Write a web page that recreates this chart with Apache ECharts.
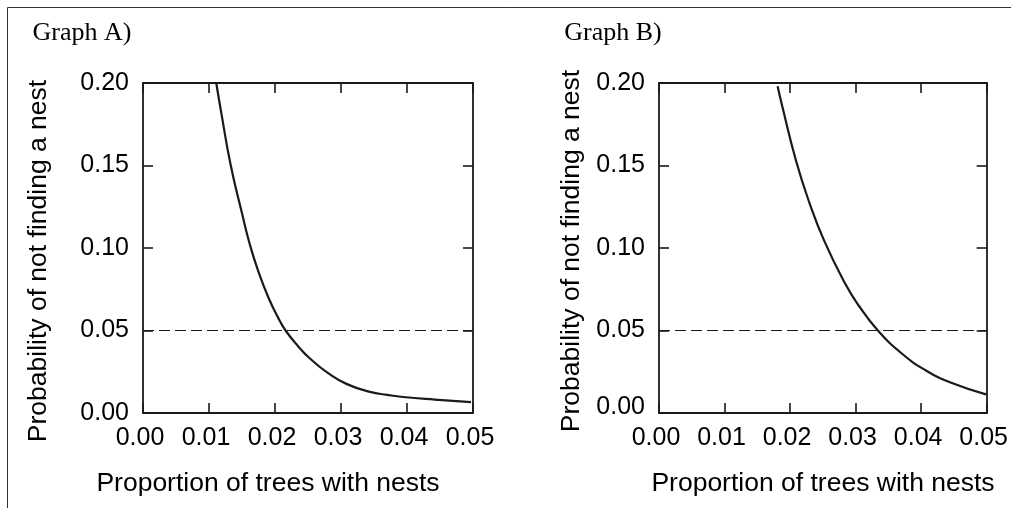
<!DOCTYPE html>
<html lang="en">
<head>
  <meta charset="UTF-8">
  <title>Probability of not finding a nest</title>
  <style type="text/css">
    * {
      margin: 0;
      padding: 0;
    }
    html, body {
      width: 100%;
      height: 100%;
      overflow: hidden;
      background: #fff;
    }
    #main {
      width: 1011px;
      height: 508px;
    }
  </style>
  <script type="text/javascript" src="https://cdn.jsdelivr.net/npm/echarts@6/dist/echarts.min.js"></script>
</head>
<body>
<div id="main"></div>
<script type="text/javascript">
  // values
  var xTickLabels = ['0.00', '0.01', '0.02', '0.03', '0.04', '0.05'];
  var yTickLabels = ['0.00', '0.05', '0.10', '0.15', '0.20'];
  var thresholdLine = [0.05];

  var curveAx = [0.0111, 0.0119, 0.0133, 0.0150, 0.0162, 0.0175, 0.0190, 0.0205, 0.0216, 0.0235, 0.0253, 0.0281, 0.0309, 0.0344, 0.0370, 0.0394, 0.0442, 0.0497];
  var curveAy = [0.200, 0.181, 0.150, 0.121, 0.102, 0.0855, 0.0700, 0.0575, 0.0500, 0.0405, 0.0330, 0.0240, 0.0175, 0.0128, 0.0110, 0.0097, 0.0081, 0.0066];

  var curveBx = [0.0181, 0.0188, 0.0209, 0.0229, 0.0252, 0.0284, 0.0305, 0.0334, 0.0370, 0.0406, 0.0446, 0.0499];
  var curveBy = [0.198, 0.186, 0.153, 0.128, 0.1045, 0.0785, 0.0650, 0.0500, 0.0362, 0.0261, 0.0183, 0.0113];

  var sans = 'Liberation Sans';
  var ink = '#1a1a1a';

  function zip(xs, ys) {
    var out = [];
    for (var i = 0; i < xs.length; i++) {
      out.push([xs[i], ys[i]]);
    }
    return out;
  }

  function xAxis(grid, pos, showLabel) {
    return {
      type: 'value', gridIndex: grid, position: pos,
      min: 0, max: 0.05, interval: 0.01,
      axisLine: { show: true, onZero: false, lineStyle: { color: ink, width: 1.8 } },
      axisTick: { show: true, inside: true, length: 10, lineStyle: { color: ink, width: 1.6 } },
      splitLine: { show: false },
      axisLabel: {
        show: showLabel, margin: 13, fontFamily: sans, fontSize: 25, color: '#000',
        padding: [0, 6, 0, 0],
        formatter: function (v, i) { return xTickLabels[i]; }
      }
    };
  }

  function yAxis(grid, pos, showLabel, liftZero) {
    return {
      type: 'value', gridIndex: grid, position: pos,
      min: 0, max: 0.2, interval: 0.05,
      axisLine: { show: true, onZero: false, lineStyle: { color: ink, width: 1.8 } },
      axisTick: { show: true, inside: true, length: 10, lineStyle: { color: ink, width: 1.6 } },
      splitLine: { show: false },
      axisLabel: {
        show: showLabel, margin: 14, fontFamily: sans, fontSize: 25, color: '#000',
        formatter: function (v, i) {
          if (liftZero && i === 0) return '{z|' + yTickLabels[i] + '}';
          return yTickLabels[i];
        },
        rich: { z: { fontFamily: sans, fontSize: 25, color: '#000', padding: [0, 0, 12, 0] } }
      }
    };
  }

  function curve(grid, xs, ys) {
    return {
      type: 'line', xAxisIndex: grid * 2, yAxisIndex: grid * 2,
      data: zip(xs, ys), showSymbol: false, smooth: 0.5,
      lineStyle: { color: ink, width: 2.2 },
      markLine: {
        silent: true, symbol: 'none', label: { show: false },
        lineStyle: { color: ink, width: 1.2, type: [11, 5] },
        data: [{ yAxis: thresholdLine[0] }]
      },
      z: 3
    };
  }

  function label(text, x, y, font, rot) {
    return {
      type: 'text', x: x, y: y, rotation: rot || 0,
      style: {
        text: text, font: font, fill: '#000',
        align: 'center', verticalAlign: 'middle',
        textAlign: 'center', textVerticalAlign: 'middle'
      }
    };
  }

  var chart = echarts.init(document.getElementById('main'));
  var option = {
    animation: false,
    backgroundColor: '#fff',
    grid: [
      { left: 143, top: 83, width: 330, height: 330 },
      { left: 659, top: 83, width: 330, height: 330 }
    ],
    xAxis: [
      xAxis(0, 'bottom', true), xAxis(0, 'top', false),
      xAxis(1, 'bottom', true), xAxis(1, 'top', false)
    ],
    yAxis: [
      yAxis(0, 'left', true, false), yAxis(0, 'right', false, false),
      yAxis(1, 'left', true, true), yAxis(1, 'right', false, false)
    ],
    series: [
      curve(0, curveAx, curveAy),
      curve(1, curveBx, curveBy)
    ],
    graphic: [
      // outer frame (top and left only)
      { type: 'line', shape: { x1: 7.5, y1: 7.5, x2: 1011, y2: 7.5 }, style: { stroke: '#333', lineWidth: 1 } },
      { type: 'line', shape: { x1: 7.5, y1: 7.5, x2: 7.5, y2: 508 }, style: { stroke: '#333', lineWidth: 1 } },
      label('Graph A)', 82, 33, '26px "Liberation Serif"'),
      label('Graph B)', 613, 33, '26px "Liberation Serif"'),
      label('Proportion of trees with nests', 268, 484, '26.5px "Liberation Sans"'),
      label('Proportion of trees with nests', 823, 484, '26.5px "Liberation Sans"'),
      label('Probability of not finding a nest', 39, 261, '26.5px "Liberation Sans"', Math.PI / 2),
      label('Probability of not finding a nest', 572, 251, '26.5px "Liberation Sans"', Math.PI / 2)
    ]
  };
  chart.setOption(option);
</script>
</body>
</html>
